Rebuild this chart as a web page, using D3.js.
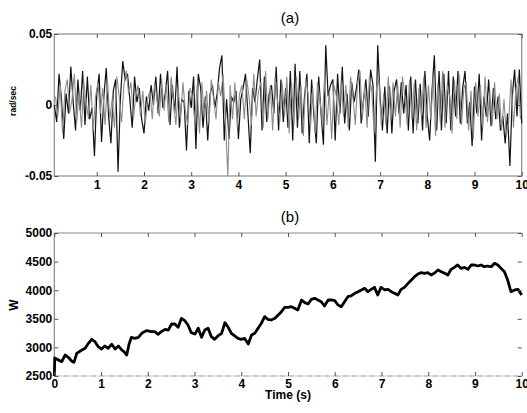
<!DOCTYPE html>
<html>
<head>
<meta charset="utf-8">
<script src="https://cdn.jsdelivr.net/npm/d3@7"></script>
<style>
  body { margin: 0; background: #fff; }
  text { font-family: Arial, "Liberation Sans", sans-serif; }
</style>
</head>
<body>
<div id="chart"></div>
<script>
// panel (a): yaw rate noise, two traces, values in mrad/s (divided by 1000 when drawn)
// black trace sampled every 0.05 s from 0.10 s, grey trace offset by 0.025 s
var rateStartBlack = 0.10, rateStartGrey = 0.125, rateStep = 0.05;
var rateBlack = [
  0, -12, 22, 5, -24, 8, -6, 27, 2, -18, 18, -4, 24, -14, 20, -10, -2, -36, 8, 22,
  -26, 6, 26, -8, -27, 10, 18, -47, 4, 31, 18, 22, 4, -16, 20, 2, 12, -10, -20, 6,
  -4, 14, 0, 20, -6, 22, -2, 8, 24, -14, 14, -6, 27, -16, 4, 2, -32, 10, -2, 20,
  -31, 22, 12, -16, 6, -25, 8, 14, -2, 8, 26, 35, -25, 4, -24, 6, 2, 10, -24, 4,
  12, 22, -6, -34, 12, 2, 18, 32, -18, 20, -12, 8, 14, -6, 27, -18, 18, -12, 12, -16,
  24, -25, 29, -16, 24, -20, 6, 22, -27, 18, -8, -27, 20, -6, -28, 42, 6, 14, 18, -25,
  22, -6, 27, -13, 8, -18, 16, 2, 12, 25, -13, 4, 18, -8, 25, 14, -40, 42, 6, -18,
  13, -20, 13, -20, 10, 18, -6, 16, -6, 14, -18, 20, -20, 18, -13, 15, -18, 24, -8, -25,
  10, 35, -18, 24, -18, 22, -13, 24, -18, 20, -8, 24, -13, 12, 24, -13, 2, -29, 13, -6,
  22, -25, 6, -8, 18, -15, 12, -10, 6, -18, -8, -27, -6, -43, 6, 25, -8, 25, -13
];
var rateGrey = [
  6, -8, 14, -20, 10, 18, -6, 4, 22, -12, 8, -16, 16, 2, -10, 14, -18, 6, 16, -6,
  12, -14, 18, -10, 4, -16, 20, 6, -12, 14, 24, 8, 16, -10, 6, 14, -8, 10, -14, 4,
  10, -10, 16, 4, -8, 18, -4, 14, -12, 20, 2, -14, 12, -10, 16, -4, -14, 12, 6, -12,
  14, -20, 16, -8, 10, -14, 18, 4, -10, 16, 6, 22, -12, -50, 14, -10, 16, -16, 8, 14,
  -10, 18, 6, -14, 22, -8, 10, 16, -16, 24, -10, 14, -18, 20, 4, -12, 16, -8, 20, -20,
  16, -14, 20, -10, 14, -22, 18, 8, -16, 12, -20, 16, 4, -12, 20, -14, 10, -24, 14, 6,
  -14, 18, -8, 14, -16, 20, 6, -14, 16, 24, -10, 14, -16, 20, 10, -20, 12, 18, -14, 8,
  -14, 20, -10, 16, -8, 14, -16, 20, 6, -14, 18, -10, 16, -18, 12, -8, 20, -16, 14, -10,
  20, -22, 16, -12, 24, -16, 14, 6, -20, 18, -10, 22, -14, 12, 16, -18, 10, -24, 16, -8,
  14, -16, 20, -12, 10, -14, 16, -10, 8, -18, 4, -22, -12, 18, -16, 10, 20, -10
];
var rateTicksX = [1, 2, 3, 4, 5, 6, 7, 8, 9, 10];
var rateTicksY = [-0.05, 0, 0.05];

// panel (b): W against time
var wTime = [
  0, 0.01, 0.09, 0.16, 0.23, 0.30, 0.37, 0.42, 0.48, 0.59, 0.66, 0.73, 0.80, 0.87, 0.94,
  1.01, 1.08, 1.15, 1.23, 1.30, 1.37, 1.44, 1.49, 1.55, 1.60, 1.65, 1.72, 1.80, 1.87, 1.97,
  2.08, 2.15, 2.22, 2.29, 2.37, 2.44, 2.51, 2.58, 2.65, 2.72, 2.79, 2.86, 2.93, 3.01, 3.08,
  3.15, 3.22, 3.29, 3.36, 3.43, 3.50, 3.58, 3.65, 3.72, 3.79, 3.86, 3.93, 4.00, 4.07, 4.15,
  4.22, 4.29, 4.36, 4.43, 4.50, 4.57, 4.64, 4.72, 4.79, 4.86, 4.93, 5.00, 5.07, 5.14, 5.21,
  5.29, 5.36, 5.43, 5.50, 5.57, 5.64, 5.71, 5.78, 5.86, 5.93, 6.00, 6.07, 6.14, 6.21, 6.28,
  6.35, 6.43, 6.50, 6.57, 6.64, 6.71, 6.78, 6.85, 6.92, 6.99, 7.07, 7.14, 7.21, 7.28, 7.35,
  7.42, 7.49, 7.57, 7.64, 7.71, 7.78, 7.85, 7.92, 7.99, 8.06, 8.13, 8.21, 8.28, 8.35, 8.42,
  8.49, 8.56, 8.63, 8.70, 8.78, 8.85, 8.92, 8.99, 9.06, 9.13, 9.20, 9.27, 9.35, 9.42, 9.49,
  9.56, 9.63, 9.70, 9.77, 9.85, 9.92, 10.0
];
var wValue = [
  2500, 2815, 2780, 2751, 2867, 2827, 2762, 2739, 2896, 2955, 2984, 3071, 3141, 3100, 3013,
  2972, 3025, 2984, 3054, 2972, 3025, 2955, 2926, 2867, 3060, 3176, 3159, 3176, 3246, 3293,
  3275, 3275, 3229, 3275, 3316, 3304, 3409, 3409, 3351, 3508, 3467, 3392, 3258, 3234, 3334,
  3176, 3304, 3334, 3188, 3141, 3200, 3246, 3433, 3351, 3246, 3200, 3159, 3141, 3159, 3060,
  3217, 3246, 3334, 3421, 3538, 3491, 3479, 3508, 3567, 3625, 3701, 3701, 3712, 3683, 3654,
  3829, 3782, 3759, 3840, 3858, 3829, 3800, 3724, 3829, 3829, 3817, 3741, 3712, 3800, 3887,
  3899, 3945, 3974, 4004, 4033, 3974, 4015, 4050, 3916, 4050, 4004, 4015, 3974, 3945, 3916,
  4015, 4050, 4120, 4178, 4237, 4283, 4307, 4295, 4307, 4266, 4295, 4353, 4324, 4295, 4266,
  4365, 4400, 4441, 4382, 4400, 4365, 4441, 4441, 4423, 4441, 4411, 4423, 4411, 4470, 4441,
  4382, 4324, 4178, 3974, 4004, 4015, 3916
];
var wTicksX = [0, 1, 2, 3, 4, 5, 6, 7, 8, 9, 10];
var wTicksY = [2500, 3000, 3500, 4000, 4500, 5000];

var width = 527, height = 413;
var left = 54.3, right = 521.7;

var svg = d3.select("#chart").append("svg")
  .attr("width", width)
  .attr("height", height);

// ---------- panel (a) ----------
var xa = d3.scaleLinear().domain([0.1, 10]).range([left, right]);
var ya = d3.scaleLinear().domain([-0.05, 0.05]).range([176, 34]);

var ga = svg.append("g");

ga.append("rect")
  .attr("x", left).attr("y", 34)
  .attr("width", right - left).attr("height", 176 - 34)
  .attr("fill", "none").attr("stroke", "#8a8a8a").attr("stroke-width", 1.2);

var lineBlack = d3.line()
  .x(function (d, i) { return xa(rateStartBlack + i * rateStep); })
  .y(function (d) { return ya(d / 1000); });
var lineGrey = d3.line()
  .x(function (d, i) { return xa(rateStartGrey + i * rateStep); })
  .y(function (d) { return ya(d / 1000); });

ga.append("path").datum(rateBlack)
  .attr("d", lineBlack)
  .attr("fill", "none").attr("stroke", "#111").attr("stroke-width", 1.2);
ga.append("path").datum(rateGrey)
  .attr("d", lineGrey)
  .attr("fill", "none").attr("stroke", "#8c8c8c").attr("stroke-width", 1.1);

var fmtA = function (d) { return d === 0 ? "0" : d.toFixed(2); };

ga.append("g").attr("transform", "translate(0,176)")
  .call(d3.axisBottom(xa).tickValues(rateTicksX).tickSizeInner(-4).tickSizeOuter(0).tickPadding(4).tickFormat(d3.format("d")));
ga.append("g").attr("transform", "translate(0,34)")
  .call(d3.axisTop(xa).tickValues(rateTicksX).tickSizeInner(-4).tickSizeOuter(0).tickFormat(""));
ga.append("g").attr("transform", "translate(" + left + ",0)")
  .call(d3.axisLeft(ya).tickValues(rateTicksY).tickSizeInner(-4).tickSizeOuter(0).tickPadding(2).tickFormat(fmtA));
ga.append("g").attr("transform", "translate(" + right + ",0)")
  .call(d3.axisRight(ya).tickValues(rateTicksY).tickSizeInner(-4).tickSizeOuter(0).tickFormat(""));

ga.append("text")
  .attr("x", 290).attr("y", 23)
  .attr("text-anchor", "middle")
  .attr("font-size", 15)
  .text("(a)");

ga.append("text")
  .attr("transform", "translate(16,101) rotate(-90)")
  .attr("text-anchor", "middle")
  .attr("font-size", 8.5)
  .attr("font-weight", "bold")
  .text("rad/sec");

// ---------- panel (b) ----------
var xb = d3.scaleLinear().domain([0, 10]).range([left, right]);
var yb = d3.scaleLinear().domain([2500, 5000]).range([376, 233]);

var gb = svg.append("g");

// top and left frame lines
gb.append("line")
  .attr("x1", left).attr("x2", right).attr("y1", 233).attr("y2", 233)
  .attr("stroke", "#8a8a8a").attr("stroke-width", 1.2);
gb.append("line")
  .attr("x1", left).attr("x2", left).attr("y1", 233).attr("y2", 376)
  .attr("stroke", "#8a8a8a").attr("stroke-width", 1.2);
// dotted base line at 2500
gb.append("line")
  .attr("x1", left).attr("x2", right).attr("y1", yb(2500)).attr("y2", yb(2500))
  .attr("stroke", "#9a9a9a").attr("stroke-width", 1)
  .attr("stroke-dasharray", "6,1,1,1");

var lineW = d3.line()
  .x(function (d) { return xb(d[0]); })
  .y(function (d) { return yb(d[1]); });

gb.append("path").datum(d3.zip(wTime, wValue))
  .attr("d", lineW)
  .attr("fill", "none").attr("stroke", "#000").attr("stroke-width", 2.8)
  .attr("stroke-linejoin", "round");

gb.append("g").attr("transform", "translate(0,376)")
  .call(d3.axisBottom(xb).tickValues(wTicksX).tickSizeInner(-4).tickSizeOuter(0).tickPadding(3).tickFormat(d3.format("d")));
gb.append("g").attr("transform", "translate(0,233)")
  .call(d3.axisTop(xb).tickValues(wTicksX).tickSizeInner(-4).tickSizeOuter(0).tickFormat(""));
gb.append("g").attr("transform", "translate(" + left + ",0)")
  .call(d3.axisLeft(yb).tickValues(wTicksY).tickSizeInner(-4).tickSizeOuter(0).tickPadding(2).tickFormat(d3.format("d")));
gb.append("g").attr("transform", "translate(" + right + ",0)")
  .call(d3.axisRight(yb).tickValues(wTicksY).tickSizeInner(-4).tickSizeOuter(0).tickFormat(""));

gb.append("text")
  .attr("x", 290).attr("y", 222)
  .attr("text-anchor", "middle")
  .attr("font-size", 15)
  .text("(b)");

gb.append("text")
  .attr("transform", "translate(18,305) rotate(-90)")
  .attr("text-anchor", "middle")
  .attr("font-size", 12)
  .attr("font-weight", "bold")
  .text("W");

gb.append("text")
  .attr("x", 288).attr("y", 399)
  .attr("text-anchor", "middle")
  .attr("font-size", 12)
  .attr("font-weight", "bold")
  .text("Time (s)");

// axis styling: no domain path, grey ticks, bold black labels
svg.selectAll(".domain").remove();
svg.selectAll(".tick line").attr("stroke", "#555");
svg.selectAll(".tick text")
  .attr("font-size", 12)
  .attr("font-weight", "bold")
  .attr("fill", "#000")
  .style("font-family", "Arial, 'Liberation Sans', sans-serif");
</script>
</body>
</html>
